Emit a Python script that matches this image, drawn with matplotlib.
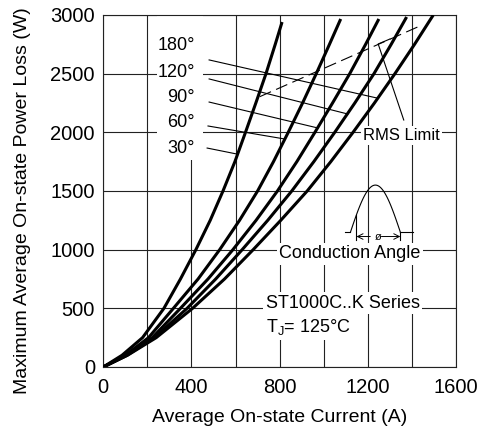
import numpy as np
import matplotlib
matplotlib.use("Agg")
import matplotlib.pyplot as plt
from matplotlib.patches import Rectangle

plt.rcParams['font.family'] = ['Liberation Sans', 'DejaVu Sans']
plt.rcParams['mathtext.fontset'] = 'custom'
plt.rcParams['mathtext.rm'] = 'Liberation Sans'

# ---------- data ----------
angles = ['30°', '60°', '90°', '120°', '180°']

p_lvl = [0, 100, 250, 500, 750, 1000, 1250, 1500, 1750, 2000, 2250, 2500, 2750]

i_30 = [0, 85, 178, 275, 350, 420, 485, 543, 597, 645, 692, 738, 780, 811]
p_30 = p_lvl + [2940]

i_60 = [0, 100, 205, 318, 430, 528, 618, 700, 772, 839, 904, 966, 1026, 1077]
p_60 = p_lvl + [2966]

i_90 = [0, 105, 222, 350, 475, 588, 693, 790, 878, 960, 1040, 1118, 1190, 1250]
p_90 = p_lvl + [2966]

i_120 = [0, 108, 232, 380, 510, 630, 746, 855, 955, 1050, 1141, 1228, 1306, 1376]
p_120 = p_lvl + [2983]

i_180 = [0, 110, 240, 405, 550, 680, 805, 925, 1032, 1133, 1230, 1323, 1412, 1497]
p_180 = p_lvl + [3000]

# RMS limit line (dashed)
rms_i = [710, 1436]
rms_p = [2304, 2906]

x_ticks = [0, 400, 800, 1200, 1600]
y_ticks = [0, 500, 1000, 1500, 2000, 2500, 3000]

curves = [(i_30, p_30), (i_60, p_60), (i_90, p_90), (i_120, p_120), (i_180, p_180)]

# label text positions and leader lines (data coords)
label_pos = [(416, 1866), (416, 2080), (416, 2297), (416, 2514), (416, 2736)]
leader_start = [(471, 1866), (475, 2054), (480, 2258), (480, 2455), (480, 2617)]
leader_end = [(606, 1815), (823, 1943), (973, 2037), (1109, 2156), (1240, 2293)]

# ---------- figure ----------
fig = plt.figure(figsize=(4.91, 4.32), dpi=100)
ax = fig.add_axes([0.2104, 0.1505, 0.7183, 0.8148])

ax.set_xlim(0, 1600)
ax.set_ylim(0, 3000)
ax.set_xticks(x_ticks)
ax.set_xticks(np.arange(0, 1601, 200), minor=True)
ax.set_yticks(y_ticks)
ax.set_axisbelow(True)
ax.grid(True, which='both', color='#222222', lw=0.8)
ax.tick_params(which='both', length=0, labelsize=14.5)
ax.tick_params(axis='x', pad=8)
ax.tick_params(axis='y', pad=6)
for s in ax.spines.values():
    s.set_linewidth(0.8)
    s.set_color('#222222')

# white box behind the angle labels
ax.add_patch(Rectangle((0.152, 0.588), 0.1304, 0.42, transform=ax.transAxes,
                       facecolor='white', edgecolor='none', zorder=1))

for (ii, pp) in curves:
    ax.plot(ii, pp, color='black', lw=2.2, zorder=3, solid_capstyle='butt',
            solid_joinstyle='round')

ax.plot(rms_i, rms_p, color='black', lw=0.8, dashes=(11, 5), zorder=3)

for lab, (tx, ty), (sx, sy), (ex, ey) in zip(angles, label_pos, leader_start, leader_end):
    ax.text(tx, ty, lab, fontsize=13, ha='right', va='center', zorder=4)
    ax.plot([sx, ex], [sy, ey], color='black', lw=0.8, zorder=3)

# RMS limit label with pointer
ax.text(1352, 1977, 'RMS Limit', fontsize=12, ha='center', va='center', zorder=4,
        bbox=dict(facecolor='white', edgecolor='none', pad=1.5))
ax.plot([1363, 1247, 1300], [2105, 2753, 2795], color='black', lw=0.8, zorder=3)

# conduction angle glyph
ins = ax.inset_axes([0.676, 0.341, 0.2153, 0.190])
ins.set_facecolor('white')
ins.set_xlim(-0.546, 4.227)
ins.set_ylim(-0.311, 1.106)
ins.set_axis_off()
ins.patch.set_visible(True)
th = np.linspace(0, np.pi, 60)
ins.plot(th, np.sin(th), color='black', lw=0.8)
ins.plot([-0.36, 0], [0, 0], color='black', lw=0.8)
ins.plot([np.pi, np.pi + 0.79], [0, 0], color='black', lw=0.8)
fa = 0.377
ins.plot([fa, fa], [np.sin(fa), -0.163], color='black', lw=0.8)
ins.plot([np.pi, np.pi], [0, -0.163], color='black', lw=0.8)
ins.annotate('', xy=(fa, -0.09), xytext=(1.25, -0.09),
             arrowprops=dict(arrowstyle='->', lw=0.7, color='black', shrinkA=0, shrinkB=0))
ins.annotate('', xy=(np.pi, -0.09), xytext=(1.95, -0.09),
             arrowprops=dict(arrowstyle='->', lw=0.7, color='black', shrinkA=0, shrinkB=0))
ins.text((fa + np.pi) / 2, -0.09, 'ø', fontsize=8, ha='center', va='center')

ax.text(1120, 963, 'Conduction Angle', fontsize=13, ha='center', va='center', zorder=4,
        bbox=dict(facecolor='white', edgecolor='none', pad=1.5))

ax.text(736, 545, 'ST1000C..K Series', fontsize=13, ha='left', va='center', zorder=4,
        bbox=dict(facecolor='white', edgecolor='none', pad=2))
ax.text(736, 340, 'T$_\\mathregular{J}$= 125°C', fontsize=13, ha='left', va='center', zorder=4,
        bbox=dict(facecolor='white', edgecolor='none', pad=2))

ax.set_xlabel('Average On-state Current (A)', fontsize=14)
ax.set_ylabel('Maximum Average On-state Power Loss (W)', fontsize=14)
ax.xaxis.set_label_coords(0.5, -0.119)
ax.yaxis.set_label_coords(-0.205, 0.472)

fig.savefig('out.png', dpi=100)
